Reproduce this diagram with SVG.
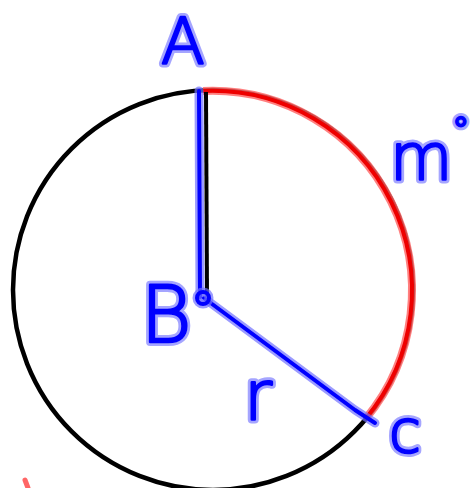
<svg xmlns="http://www.w3.org/2000/svg" width="470" height="488" viewBox="0 0 470 488">
<style>
.halo{fill:#8080ff;stroke:#8080ff;stroke-width:8;stroke-linejoin:round;stroke-linecap:round;opacity:0.7}
.ink{fill:#0000ff;stroke:#0000ff;stroke-width:2.5;stroke-linejoin:round}
.lbl{font-family:"DejaVu Sans","Liberation Sans",sans-serif;font-weight:200}
.bh{fill:none;stroke:#7070ff;stroke-width:9;stroke-linecap:round;stroke-linejoin:round;opacity:0.7}
.bl{fill:none;stroke:#0000ff;stroke-width:4;stroke-linecap:round;stroke-linejoin:round}
</style>
<rect width="470" height="488" fill="#ffffff"/>
<g id="circle">
<circle cx="213" cy="290" r="200" fill="none" stroke="#000" stroke-width="4.5"/>
</g>
<g id="arc">
<path d="M203 91 A200 200 0 0 1 365.5 419" fill="none" stroke="#ff6060" stroke-width="8" opacity="0.8"/>
<path d="M203 91 A200 200 0 0 1 365.5 419" fill="none" stroke="#ee0000" stroke-width="4"/>
</g>
<g id="connectors">
<line x1="206" y1="92" x2="207" y2="297" stroke="#000" stroke-width="4"/>
<path class="bh" d="M199 91 L200 297 M204 298 L355 410 L375 423"/>
<path class="bl" d="M199 91 L200 297 M204 298 L355 410 L375 423"/>
<circle cx="203" cy="298" r="6" class="bh"/>
<circle cx="203" cy="298" r="6" class="bl"/>
<path d="M25 480 L28 488" stroke="#ff4040" stroke-width="5" stroke-linecap="round" opacity="0.8"/>
</g>
<g id="label-A">
<text class="lbl halo" x="183" y="64" font-size="64" text-anchor="middle">A</text>
<text class="lbl ink" x="183" y="64" font-size="64" text-anchor="middle">A</text>
</g>
<g id="label-m">
<text class="lbl halo" x="390" y="179" font-size="64">m<tspan font-size="34" dy="-37">°</tspan></text>
<text class="lbl ink" x="390" y="179" font-size="64">m<tspan font-size="34" dy="-37">°</tspan></text>
</g>
<g id="label-B">
<text class="lbl halo" x="166" y="342" font-size="78" text-anchor="middle">B</text>
<text class="lbl ink" x="166" y="342" font-size="78" text-anchor="middle">B</text>
</g>
<g id="label-r">
<text class="lbl halo" x="258" y="419" font-size="68" text-anchor="middle">r</text>
<text class="lbl ink" x="258" y="419" font-size="68" text-anchor="middle">r</text>
</g>
<g id="label-C">
<text class="lbl halo" x="405" y="452" font-size="58" text-anchor="middle">c</text>
<text class="lbl ink" x="405" y="452" font-size="58" text-anchor="middle">c</text>
</g>
</svg>
